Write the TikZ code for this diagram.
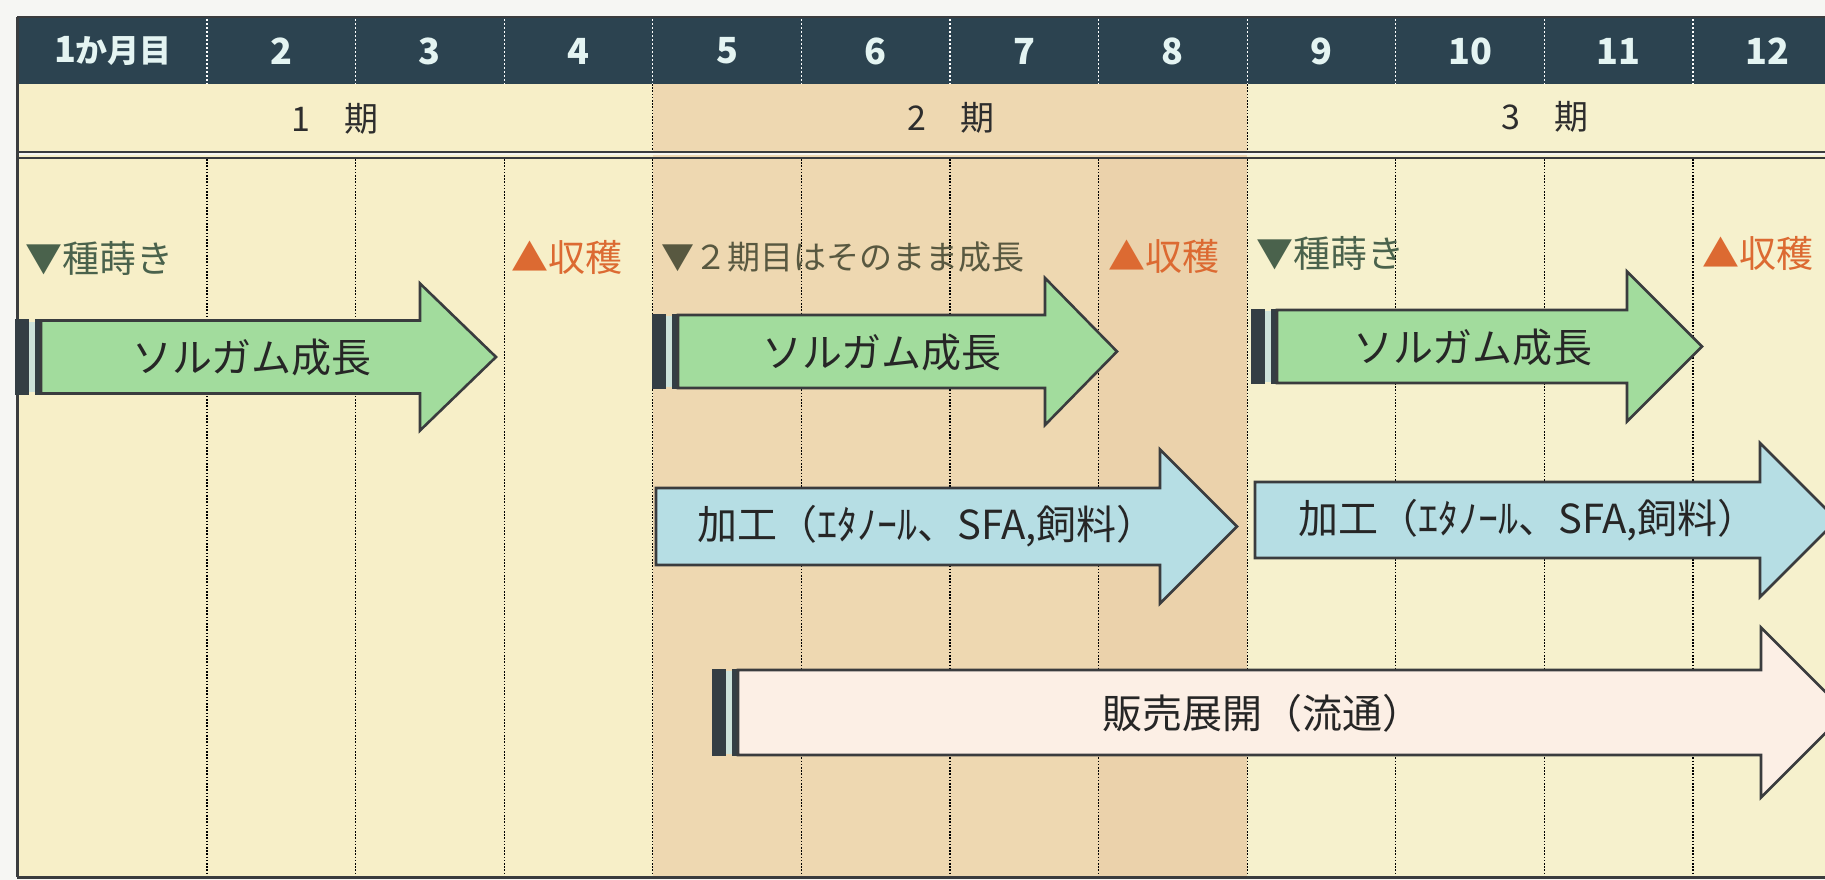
\documentclass[tikz,border=0pt]{standalone}
\usepackage{fontspec}
\newfontfamily\jp{Noto Sans CJK JP}
\definecolor{paper}{RGB}{246,246,243}
\definecolor{hdr}{RGB}{44,67,80}
\definecolor{hdrtxt}{RGB}{228,244,242}
\definecolor{creamA}{RGB}{247,239,200}
\definecolor{creamB}{RGB}{246,241,205}
\definecolor{tanA}{RGB}{238,216,177}
\definecolor{tanB}{RGB}{235,210,171}
\definecolor{grn}{RGB}{162,220,157}
\definecolor{blu}{RGB}{182,222,228}
\definecolor{pnk}{RGB}{252,239,229}
\definecolor{edge}{RGB}{58,60,62}
\definecolor{stripeD}{RGB}{52,62,68}
\definecolor{stripeL}{RGB}{205,226,218}
\definecolor{sowc}{RGB}{74,98,76}
\definecolor{harv}{RGB}{220,106,50}
\definecolor{olive}{RGB}{88,88,64}
\definecolor{per}{RGB}{45,45,45}
\tikzset{
  hdrtext/.style={text=hdrtxt, font=\jp\bfseries\fontsize{36}{40}\selectfont, inner sep=0pt},
  pertext/.style={text=per, font=\jp\fontsize{34}{38}\selectfont, inner sep=0pt},
  sowtext/.style={text=sowc, font=\jp\fontsize{37}{40}\selectfont, inner sep=0pt, anchor=west},
  harvtext/.style={text=harv, font=\jp\fontsize{37}{40}\selectfont, inner sep=0pt, anchor=west},
  notetext/.style={text=olive, font=\jp\fontsize{33}{36}\selectfont, inner sep=0pt, anchor=west},
  arrtext/.style={text=black!85, font=\jp\fontsize{40}{44}\selectfont, inner sep=0pt},
  gridline/.style={black, line width=1.3pt, dash pattern=on 1.6pt off 1.6pt},
  hdrline/.style={white, line width=1.3pt, dash pattern=on 2pt off 2pt},
  arrowshape/.style={draw=edge, line width=2.6pt, line join=miter},
}
% #1 fill, #2 x0, #3 head base, #4 tip, #5 y centre, #6 shaft half height, #7 head half height
\newcommand\fatarrow[7]{%
  \path[arrowshape, fill=#1] (#2,#5-#6) -- (#3,#5-#6) -- (#3,#5-#7) -- (#4,#5)
    -- (#3,#5+#7) -- (#3,#5+#6) -- (#2,#5+#6) -- cycle;}
% #1 x0, #2 y centre, #3 half height
\newcommand\stripeend[3]{%
  \fill[stripeD] (#1,#2-#3-1.3) rectangle (#1+14,#2+#3+1.3);
  \fill[stripeL] (#1+14,#2-#3+1.3) rectangle (#1+20,#2+#3-1.3);
  \fill[stripeD] (#1+20,#2-#3-1.3) rectangle (#1+26,#2+#3+1.3);}
\begin{document}
\begin{tikzpicture}[x=1pt,y=-1pt]
\useasboundingbox (0,0) rectangle (1825,880);
\clip (0,0) rectangle (1825,880);
\fill[paper] (0,0) rectangle (1825,880);
% header row
\fill[hdr] (17,17) rectangle (1845,84);
% period row
\fill[creamA] (17,84) rectangle (652.8,152);
\fill[tanA] (652.8,84) rectangle (1247.2,152);
\fill[creamB] (1247.2,84) rectangle (1845,152);
% body
\fill[creamA] (17,155) rectangle (652.8,877);
\fill[tanA] (652.8,155) rectangle (1098.6,877);
\fill[tanB] (1098.6,155) rectangle (1247.2,877);
\fill[creamB] (1247.2,155) rectangle (1845,877);
% double line
\draw[edge, line width=2pt] (17,152) -- (1845,152);
\draw[edge, line width=2pt] (17,158) -- (1845,158);
% grid lines
\foreach \i in {1,...,11} {
  \draw[hdrline] ({207+(\i-1)*148.6},19) -- ({207+(\i-1)*148.6},84);
  \draw[gridline] ({207+(\i-1)*148.6},159) -- ({207+(\i-1)*148.6},876);
}
\draw[gridline] (652.8,84) -- (652.8,151);
\draw[gridline] (1247.2,84) -- (1247.2,151);
% borders
\draw[edge, line width=3pt] (17,17) -- (17,877);
\draw[edge, line width=3pt] (17,877) -- (1845,877);
\draw[edge, line width=1.5pt] (17,17) -- (1845,17);
% header texts
\node[hdrtext] (m1) at (113,51) {1\fontsize{32}{36}\selectfont か月目};
\foreach \k in {2,...,12} {
  \node[hdrtext] (m\k) at ({207+(\k-1.5)*148.6},51) {\k};
}
% period texts
\node[pertext] (p1) at (335,119) {1　期};
\node[pertext] (p2) at (951,118) {2　期};
\node[pertext] (p3) at (1545,117) {3　期};
% milestone labels
\node[sowtext] (sow1) at (25,258) {▼種蒔き};
\node[harvtext] (harv1) at (511,257) {▲収穫};
\node[notetext] (note2) at (661,257) {▼２期目はそのまま成長};
\node[harvtext] (harv2) at (1108,256) {▲収穫};
\node[sowtext] (sow3) at (1256,253) {▼種蒔き};
\node[harvtext] (harv3) at (1702,253) {▲収穫};
% green arrows
\stripeend{15}{357}{36.5}
\fatarrow{grn}{41}{420}{496}{357}{36.5}{73.5}
\stripeend{652}{351.5}{36.5}
\fatarrow{grn}{678}{1045}{1117}{351.5}{36.5}{73.5}
\stripeend{1251}{346.5}{36.5}
\fatarrow{grn}{1277}{1627}{1702}{346.5}{36.5}{75}
\node[arrtext] (g1) at (252,357) {ソルガム成長};
\node[arrtext] (g2) at (882,352) {ソルガム成長};
\node[arrtext] (g3) at (1473,347) {ソルガム成長};
% blue arrows
\fatarrow{blu}{656}{1160}{1237}{526.5}{38.5}{77}
\fatarrow{blu}{1255}{1760}{1837}{520}{38}{77}
\node[arrtext, anchor=west] (k1) at (697,526) {加工（ｴﾀﾉｰﾙ、SFA,飼料）};
\node[arrtext, anchor=west] (k2) at (1298,520) {加工（ｴﾀﾉｰﾙ、SFA,飼料）};
% sales arrow
\stripeend{712}{712.5}{42.5}
\fatarrow{pnk}{738}{1761}{1846}{712.5}{42.5}{85}
\node[arrtext, anchor=west] (s1) at (1102,713) {販売展開（流通）};
\end{tikzpicture}
\end{document}
